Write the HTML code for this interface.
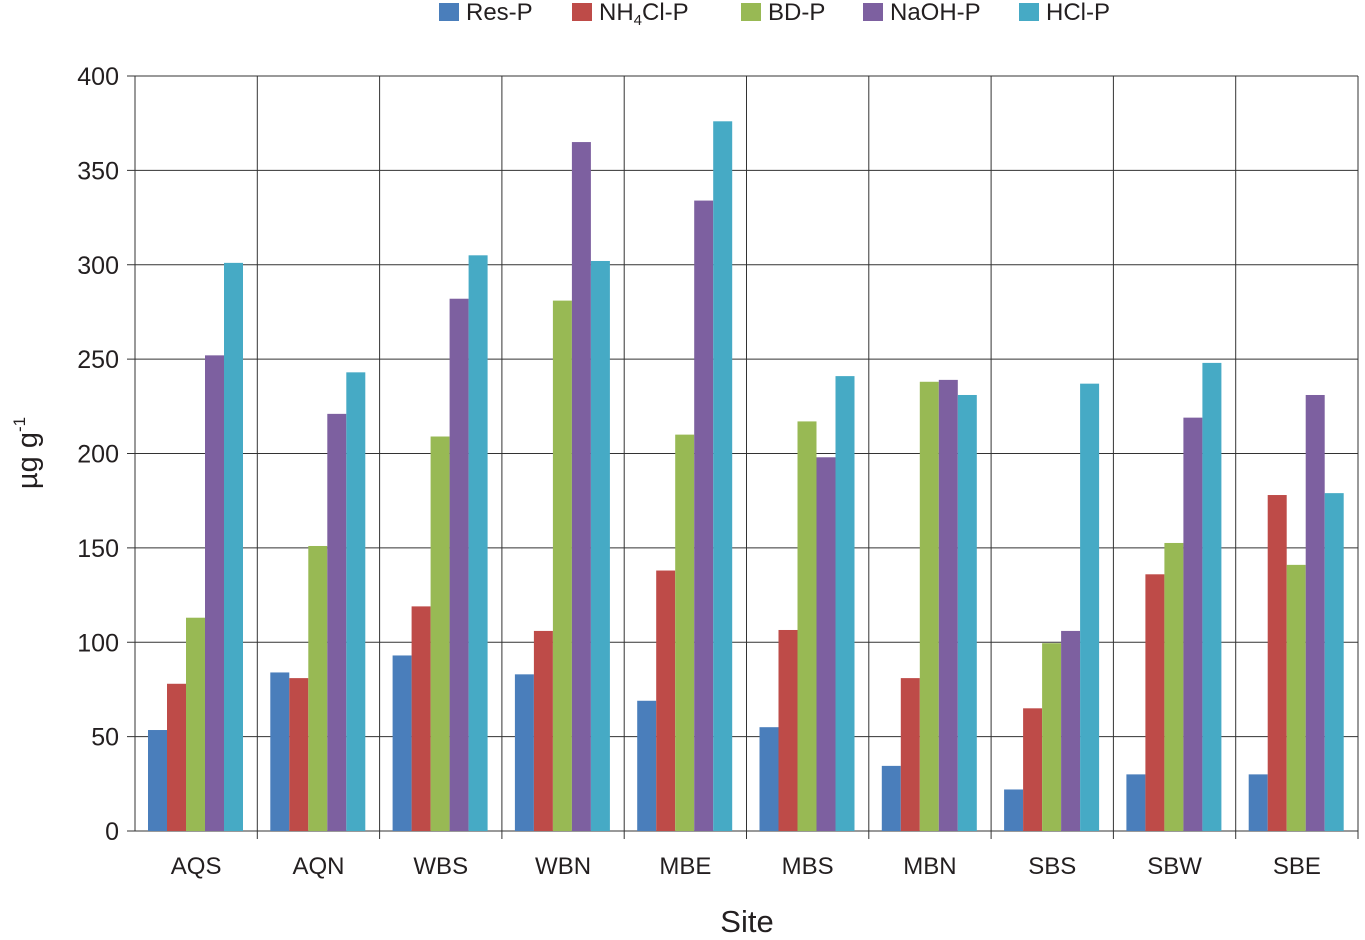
<!DOCTYPE html>
<html><head><meta charset="utf-8"><style>
body{margin:0;background:#fff;font-family:"Liberation Sans",Arial,sans-serif;}
svg text{font-family:"Liberation Sans",Arial,sans-serif;fill:#231f20;}
</style></head><body>
<svg id="chart" width="1365" height="935" viewBox="0 0 1365 935" xmlns="http://www.w3.org/2000/svg"></svg>
<script>
const categories=["AQS","AQN","WBS","WBN","MBE","MBS","MBN","SBS","SBW","SBE"];
const resP=[53.5,84,93,83,69,55,34.5,22,30,30];
const nh4clP=[78,81,119,106,138,106.5,81,65,136,178];
const bdP=[113,151,209,281,210,217,238,99.5,152.6,141];
const naohP=[252,221,282,365,334,198,239,106,219,231];
const hclP=[301,243,305,302,376,241,231,237,248,179];
const yTicks=[0,50,100,150,200,250,300,350,400];
const seriesNames=["Res-P","NH4Cl-P","BD-P","NaOH-P","HCl-P"];
const seriesData=[resP,nh4clP,bdP,naohP,hclP];
const colors=["#4a7ebb","#be4b48","#98b954","#7d60a0","#46aac5"];

const NS="http://www.w3.org/2000/svg";
const svg=document.getElementById('chart');
const L=135,R=1358,T=76,B=831,yMax=400;
const gw=(R-L)/categories.length;
function y(v){return B-(v/yMax)*(B-T);}
function x(i){return L+i*gw;}
function mk(tag,attrs,parent){const e=document.createElementNS(NS,tag);for(const k in attrs)e.setAttribute(k,attrs[k]);(parent||svg).appendChild(e);return e;}

yTicks.forEach(t=>{
  const l=mk('line',{x1:L-8,x2:R,y1:y(t),y2:y(t),stroke:'#333','stroke-width':1});
  
  
  const tx=mk('text',{x:L-16,y:y(t)+9,'text-anchor':'end','font-size':25});
  tx.textContent=t;
  
  
});
for(let i=0;i<=categories.length;i++){
  const l=mk('line',{x1:x(i),x2:x(i),y1:T,y2:B+(i==0?0:8),stroke:'#333','stroke-width':1});
  
  
}
const bw=19,off=13;
categories.forEach((c,i)=>{
  seriesData.forEach((s,j)=>{
    const r=mk('rect',{x:x(i)+off+j*bw,y:y(s[i]),width:bw,height:B-y(s[i]),fill:colors[j]});
    
    
  });
  const tx=mk('text',{x:x(i)+gw/2,y:874,'text-anchor':'middle','font-size':24});
  tx.textContent=c;
  
  
});
const xt=mk('text',{x:747,y:932,'text-anchor':'middle','font-size':31});
xt.textContent='Site';


const yt=mk('text',{x:0,y:0,'text-anchor':'middle','font-size':29,transform:'translate(37,453) rotate(-90)'});
yt.innerHTML='µg g<tspan font-size="17" dy="-12">-1</tspan>';



const legX=[439,572,741,863,1019];
seriesNames.forEach((n,j)=>{
  const g=mk('g',{});
  
  
  mk('rect',{x:legX[j],y:3,width:20,height:18,fill:colors[j]},g);
  const t=mk('text',{x:legX[j]+27,y:20,'font-size':24},g);
  if(n==="NH4Cl-P"){t.innerHTML='NH<tspan font-size="15" dy="5">4</tspan><tspan dy="-5">Cl-P</tspan>';}
  else t.textContent=n;
});
</script>
</body></html>
